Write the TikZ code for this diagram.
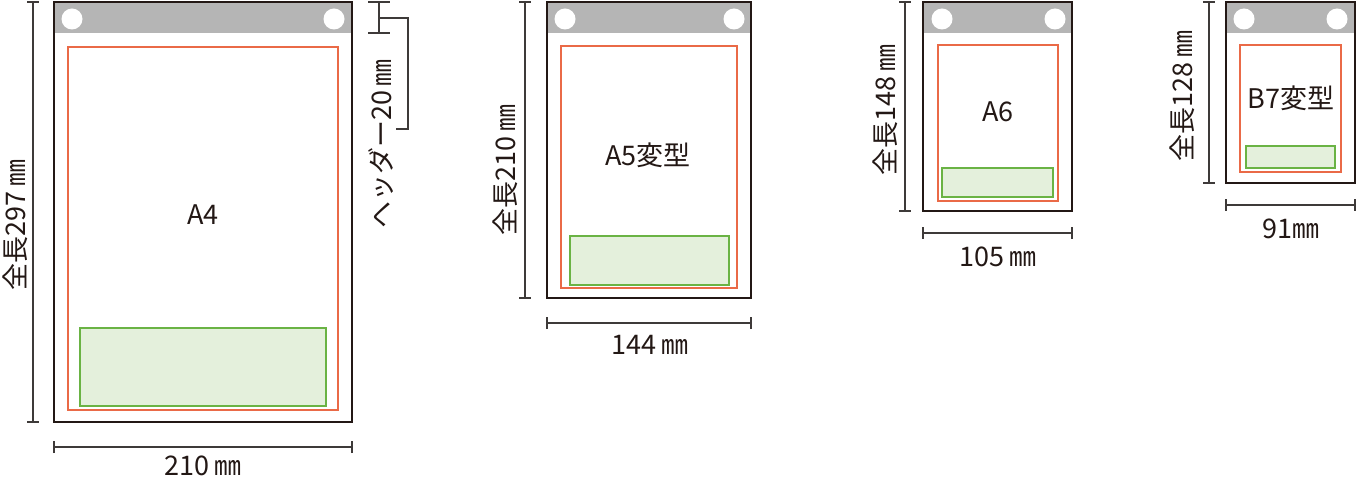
\documentclass[tikz,border=0pt]{standalone}
\usepackage{fontspec}
\newfontfamily\jpfont{Noto Sans CJK JP}
\definecolor{ink}{HTML}{231815}
\definecolor{pouchorange}{HTML}{EA6A47}
\definecolor{pouchgreen}{HTML}{6AB344}
\definecolor{pouchlight}{HTML}{E4F0DC}
\definecolor{hdrgray}{HTML}{B5B5B5}
\definecolor{dimgray}{HTML}{3E3A39}
\newcommand\mmgap{\hspace{5pt}}
\tikzset{
  outerbox/.style={draw=ink,line width=2pt},
  hdrband/.style={fill=hdrgray},
  hole/.style={fill=white},
  orangebox/.style={draw=pouchorange,line width=2pt},
  greenbox/.style={draw=pouchgreen,fill=pouchlight,line width=2pt},
  dimline/.style={draw=dimgray,line width=1.1pt},
  lbl/.style={font=\jpfont\fontsize{27}{27}\selectfont,text=ink,inner sep=0pt},
  vlbl/.style={lbl,rotate=90},
}
\begin{document}
\begin{tikzpicture}[x=1pt,y=-1pt]
\useasboundingbox (0,0) rectangle (1357,478);
% ---------- A4 ----------
\fill[hdrband] (54,2) rectangle (352,33);
\fill[hole] (72,19) circle (10.5);
\fill[hole] (334,19) circle (10.5);
\draw[orangebox] (68,47) rectangle (338,410);
\draw[greenbox] (80,328) rectangle (326,406);
\draw[outerbox] (54,2) rectangle (352,422);
\node[lbl] (a4) at (203,215) {A4};
% vertical dim
\coordinate (a4vt) at (33,2);
\coordinate (a4vb) at (33,422);
\draw[dimline] (a4vt) -- (a4vb);
\draw[dimline] ([xshift=-6]a4vt) -- ([xshift=6]a4vt);
\draw[dimline] ([xshift=-6]a4vb) -- ([xshift=6]a4vb);
\node[vlbl] (a4h) at (15,225) {全長297\mmgap㎜};
% horizontal dim
\coordinate (a4hl) at (54,447);
\coordinate (a4hr) at (352,447);
\draw[dimline] (a4hl) -- (a4hr);
\draw[dimline] ([yshift=-6]a4hl) -- ([yshift=6]a4hl);
\draw[dimline] ([yshift=-6]a4hr) -- ([yshift=6]a4hr);
\node[lbl] (a4w) at (203,466) {210\mmgap㎜};
% header dim
\coordinate (ht) at (379,2);
\coordinate (hb) at (379,33);
\draw[dimline] (ht) -- (hb);
\draw[dimline] ([xshift=-11]ht) -- ([xshift=11]ht);
\draw[dimline] ([xshift=-11]hb) -- ([xshift=11]hb);
\coordinate (hm) at (379,18);
\coordinate (hc) at (408,18);
\coordinate (he) at (396,129);
\draw[dimline] (hm) -- (hc) |- (he);
\node[vlbl] (hdr) at (381,144) {ヘッダー20\mmgap㎜};
% ---------- A5 ----------
\fill[hdrband] (547,2) rectangle (751,33);
\fill[hole] (565,19) circle (10.5);
\fill[hole] (734,19) circle (10.5);
\draw[orangebox] (561,46) rectangle (737,288);
\draw[greenbox] (570,236) rectangle (729,285);
\draw[outerbox] (547,2) rectangle (751,298);
\node[lbl] (a5) at (648,155) {A5変型};
\coordinate (a5vt) at (525,2);
\coordinate (a5vb) at (525,298);
\draw[dimline] (a5vt) -- (a5vb);
\draw[dimline] ([xshift=-6]a5vt) -- ([xshift=6]a5vt);
\draw[dimline] ([xshift=-6]a5vb) -- ([xshift=6]a5vb);
\node[vlbl] (a5h) at (505,170) {全長210\mmgap㎜};
\coordinate (a5hl) at (547,323);
\coordinate (a5hr) at (751,323);
\draw[dimline] (a5hl) -- (a5hr);
\draw[dimline] ([yshift=-6]a5hl) -- ([yshift=6]a5hl);
\draw[dimline] ([yshift=-6]a5hr) -- ([yshift=6]a5hr);
\node[lbl] (a5w) at (650,345) {144\mmgap㎜};
% ---------- A6 ----------
\fill[hdrband] (923,2) rectangle (1072,33);
\fill[hole] (942,19) circle (10.5);
\fill[hole] (1055,19) circle (10.5);
\draw[orangebox] (938,45) rectangle (1058,201);
\draw[greenbox] (942,168) rectangle (1053,197);
\draw[outerbox] (923,2) rectangle (1072,211);
\node[lbl] (a6) at (998,112) {A6};
\coordinate (a6vt) at (905,2);
\coordinate (a6vb) at (905,211);
\draw[dimline] (a6vt) -- (a6vb);
\draw[dimline] ([xshift=-6]a6vt) -- ([xshift=6]a6vt);
\draw[dimline] ([xshift=-6]a6vb) -- ([xshift=6]a6vb);
\node[vlbl] (a6h) at (885,110) {全長148\mmgap㎜};
\coordinate (a6hl) at (923,233);
\coordinate (a6hr) at (1072,233);
\draw[dimline] (a6hl) -- (a6hr);
\draw[dimline] ([yshift=-6]a6hl) -- ([yshift=6]a6hl);
\draw[dimline] ([yshift=-6]a6hr) -- ([yshift=6]a6hr);
\node[lbl] (a6w) at (998,257) {105\mmgap㎜};
% ---------- B7 ----------
\fill[hdrband] (1226,2) rectangle (1355,33);
\fill[hole] (1244,19) circle (10.5);
\fill[hole] (1337,19) circle (10.5);
\draw[orangebox] (1240,45) rectangle (1341,172);
\draw[greenbox] (1246,146) rectangle (1335,168);
\draw[outerbox] (1226,2) rectangle (1355,183);
\node[lbl] (b7) at (1291,98) {B7変型};
\coordinate (b7vt) at (1209,2);
\coordinate (b7vb) at (1209,183);
\draw[dimline] (b7vt) -- (b7vb);
\draw[dimline] ([xshift=-6]b7vt) -- ([xshift=6]b7vt);
\draw[dimline] ([xshift=-6]b7vb) -- ([xshift=6]b7vb);
\node[vlbl] (b7h) at (1182,96) {全長128\mmgap㎜};
\coordinate (b7hl) at (1226,205);
\coordinate (b7hr) at (1355,205);
\draw[dimline] (b7hl) -- (b7hr);
\draw[dimline] ([yshift=-6]b7hl) -- ([yshift=6]b7hl);
\draw[dimline] ([yshift=-6]b7hr) -- ([yshift=6]b7hr);
\node[lbl] (b7w) at (1291,229) {91㎜};
\end{tikzpicture}
\end{document}
